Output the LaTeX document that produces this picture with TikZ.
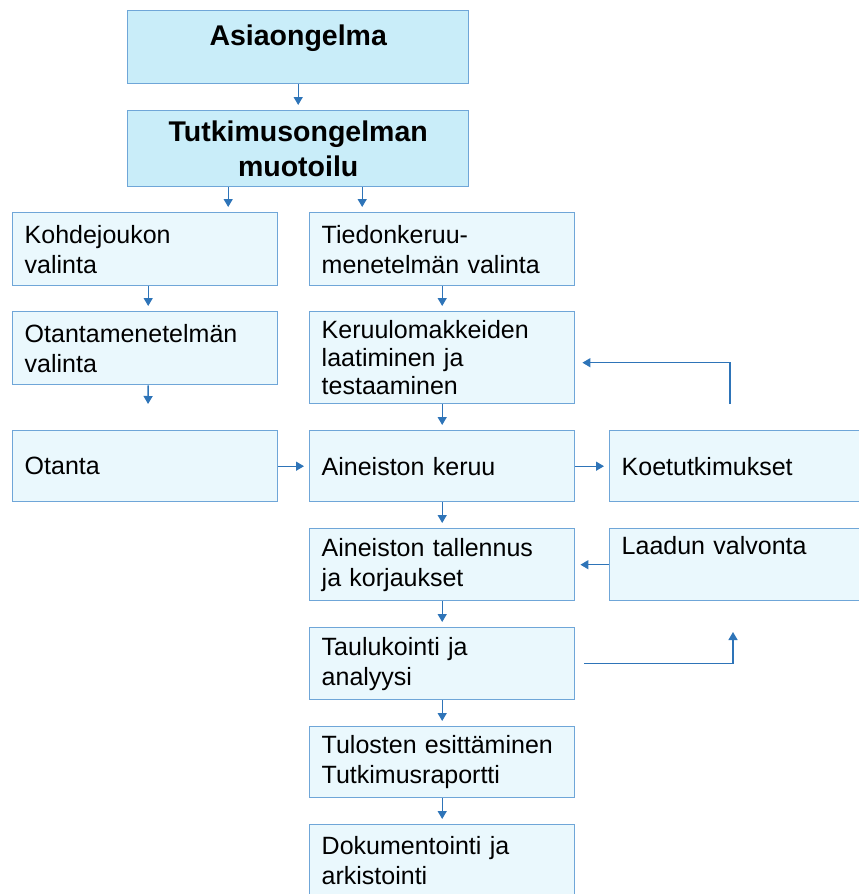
\documentclass[tikz,border=0pt]{standalone}
\usepackage{fontspec}
\setmainfont{Liberation Sans}
\usetikzlibrary{arrows.meta,calc}
\definecolor{bordc}{HTML}{6FA6D8}
\definecolor{topfill}{HTML}{C9EDF9}
\definecolor{lowfill}{HTML}{EAF8FD}
\definecolor{arrc}{HTML}{2E74B8}
\tikzset{
  box/.style={rectangle, draw=bordc, line width=1.4pt, fill=lowfill, anchor=north west,
    minimum width=265pt, minimum height=73pt, text width=241pt, inner xsep=12pt, inner ysep=0pt,
    align=left, font=\fontsize{25}{30}\selectfont},
  topbox/.style={box, fill=topfill, minimum width=341pt, minimum height=75pt, text width=317pt,
    align=center, font=\fontsize{28.5}{35}\selectfont\bfseries},
  arr/.style={draw=arrc, line width=1.4pt, -{Triangle[width=9pt,length=8pt]}, shorten >=5pt},
}
\begin{document}
\begin{tikzpicture}[x=1pt,y=-1pt]
\useasboundingbox (0,0) rectangle (859,894);
\node[topbox, minimum height=73pt, text height=35pt, text depth=38pt] (asia) at (127,10) {Asiaongelma};
\node[topbox, minimum height=76pt] (tut) at (127,110) {Tutkimusongelman\\muotoilu};
\node[box] (kohde) at (12,212) {Kohdejoukon\\valinta};
\node[box] (tied) at (309,212) {Tiedonkeruu-\\menetelmän valinta};
\node[box] (otm) at (12,311) {Otantamenetelmän\\valinta};
\node[box, minimum height=92pt, font=\fontsize{25}{28}\selectfont] (keru) at (309,311) {Keruulomakkeiden\\laatiminen ja\\testaaminen};
\node[box, minimum height=71pt] (otanta) at (12,430) {Otanta};
\node[box, minimum height=71pt] (aker) at (309,430) {Aineiston keruu};
\node[box, minimum height=71pt, minimum width=255pt] (koet) at (609,430) {Koetutkimukset};
\node[box, minimum height=72pt] (tall) at (309,528) {Aineiston tallennus\\ja korjaukset};
\node[box, minimum height=72pt, minimum width=255pt] (laad) at (609,528) {Laadun valvonta\\\strut};
\node[box, minimum height=72pt] (taul) at (309,627) {Taulukointi ja\\analyysi};
\node[box, minimum height=71pt] (tulo) at (309,726) {Tulosten esittäminen\\Tutkimusraportti};
\node[box, minimum height=72pt] (doku) at (309,824) {Dokumentointi ja\\arkistointi};
% arrows
\draw[arr] (asia.south) -- (tut.north);
\draw[arr] ([xshift=-70pt]tut.south) -- ([xshift=-70pt]tut.south |- kohde.north);
\draw[arr] ([xshift=64pt]tut.south) -- ([xshift=64pt]tut.south |- tied.north);
\draw[arr] ([xshift=3pt]kohde.south) -- ([xshift=3pt]kohde.south |- otm.north);
\coordinate (otaend) at (148,409);
\draw[arr] ([xshift=3pt]otm.south) -- (otaend);
\draw[arr] (tied.south) -- (keru.north);
\draw[arr] (keru.south) -- (aker.north);
\draw[arr] (otanta.east) -- (aker.west);
\draw[arr] (aker.east) -- (koet.west);
\coordinate (kstart) at (730,404);
\draw[arr, shorten >=7pt] (kstart) |- ([yshift=-5pt]keru.east);
\draw[arr] (aker.south) -- (tall.north);
\draw[arr] (laad.west) -- (tall.east);
\draw[arr] (tall.south) -- (taul.north);
\coordinate (lend) at (733,627);
\draw[arr, shorten <=9pt] (taul.east) -| (lend);
\draw[arr] (taul.south) -- (tulo.north);
\draw[arr] (tulo.south) -- (doku.north);
\end{tikzpicture}
\end{document}
